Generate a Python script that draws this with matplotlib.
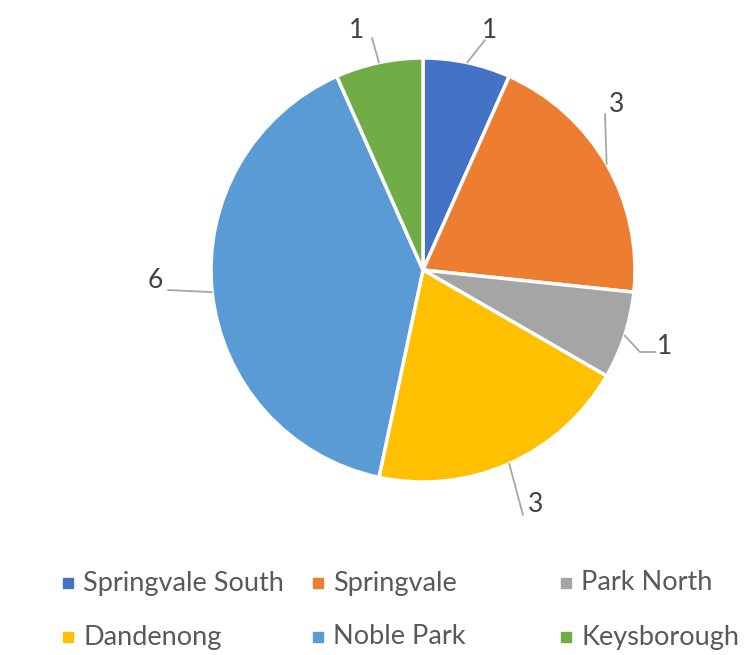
import matplotlib.pyplot as plt
import numpy as np

categories = ["Springvale South", "Springvale", "Park North",
              "Dandenong", "Noble Park", "Keysborough"]
values = [1, 3, 1, 3, 6, 1]
colors = ["#4472C4", "#ED7D31", "#A5A5A5", "#FFC000", "#5B9BD5", "#70AD47"]

# layout (pixels)
W, H = 745, 655
CX, CY, R = 423, 270, 212
label_pos = [(490, 30), (617, 104), (665, 346), (536, 505), (155, 281), (357, 30)]
leader_end = [[(485, 40)], [(605, 114)], [(640, 352), (655, 352)],
              [(523, 515)], [(168, 290)], [(372, 38)]]
legend_cols = [68, 318, 566]
legend_rows = [583, 637]

plt.rcParams['font.family'] = ['Lato', 'DejaVu Sans']
fig = plt.figure(figsize=(W / 100, H / 100), dpi=100)
ax = fig.add_axes([0, 0, 1, 1])
wedges, _ = ax.pie(values, colors=colors, startangle=90, counterclock=False,
                   radius=1, wedgeprops=dict(edgecolor='white', linewidth=2.5))
ax.set_xlim(-CX / R, (W - CX) / R)
ax.set_ylim(-(H - CY) / R, CY / R)
ax.set_aspect('auto')
ax.axis('off')


def px(x, y):
    return ((x - CX) / R, (CY - y) / R)


for i, w in enumerate(wedges):
    ang = np.deg2rad((w.theta1 + w.theta2) / 2)
    pts = [(np.cos(ang), np.sin(ang))] + [px(*p) for p in leader_end[i]]
    xs, ys = zip(*pts)
    ax.plot(xs, ys, color='#a6a6a6', lw=1.3, solid_capstyle='round')
    tx, ty = px(*label_pos[i])
    ax.text(tx, ty, str(values[i]), ha='center', va='center',
            fontsize=19, color='#404040')

for i, cat in enumerate(categories):
    col = legend_cols[i % 3]
    row = legend_rows[i // 3]
    x0, y0 = px(col, row)
    ax.plot([x0], [y0], marker='s', ms=7.5, color=colors[i], linestyle='none')
    tx, ty = px(col + 15, row)
    ax.text(tx, ty, cat, ha='left', va='center', fontsize=19.5, color='#595959')

fig.savefig('out.png', dpi=100)
